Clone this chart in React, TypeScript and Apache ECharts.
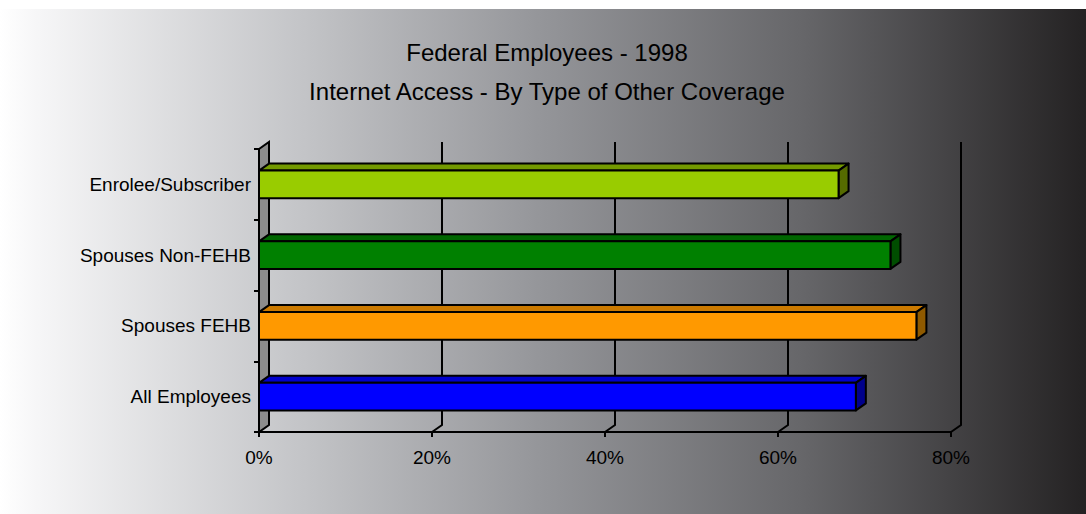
import React, { useEffect, useRef } from "react";
import * as echarts from "echarts";

const titleLines = ["Federal Employees - 1998", "Internet Access - By Type of Other Coverage"];
const categories = ["All Employees", "Spouses FEHB", "Spouses Non-FEHB", "Enrolee/Subscriber"];
const values = [69, 76, 73, 67];
const frontColors = ["#0000ff", "#ff9900", "#008000", "#99cc00"];
const topColors = ["#0000cc", "#cc7a00", "#006600", "#739900"];
const sideColors = ["#00008c", "#8f5a00", "#004d00", "#556b00"];
const xTicks = [0, 20, 40, 60, 80];

const DX = 10;
const DY = -7;
const FONT = '"Liberation Sans", Arial, Helvetica, sans-serif';

export default function App() {
  const ref = useRef<HTMLDivElement>(null);
  useEffect(() => {
    if (!ref.current) return;
    const chart = echarts.init(ref.current, null, { renderer: "svg" });
    const option: any = {
      animation: false,
      backgroundColor: "#ffffff",
      graphic: [
        {
          type: "rect",
          z: -10,
          silent: true,
          shape: { x: 0, y: 9, width: 1086, height: 505 },
          style: {
            fill: new echarts.graphic.LinearGradient(0, 0, 1, 0, [
              { offset: 0, color: "#ffffff" },
              { offset: 0.03, color: "#f7f7f8" },
              { offset: 0.28, color: "#c3c4c7" },
              { offset: 0.5, color: "#949599" },
              { offset: 0.74, color: "#666669" },
              { offset: 1, color: "#242223" },
            ]),
          },
        },
      ],
      title: [
        {
          text: titleLines[0],
          left: 542,
          top: 35,
          textAlign: "center",
          textStyle: { fontFamily: FONT, fontSize: 24, fontWeight: "normal", color: "#000" },
        },
        {
          text: titleLines[1],
          left: 542,
          top: 74,
          textAlign: "center",
          textStyle: { fontFamily: FONT, fontSize: 24, fontWeight: "normal", color: "#000" },
        },
      ],
      grid: { left: 259, right: 135, top: 149, bottom: 82 },
      xAxis: {
        type: "value",
        min: 0,
        max: 80,
        interval: 20,
        z: 5,
        axisLine: { show: true, lineStyle: { color: "#000", width: 2 } },
        axisTick: { show: true, length: 5, lineStyle: { color: "#000", width: 2 } },
        splitLine: { show: false },
        axisLabel: {
          formatter: "{value}%",
          fontFamily: FONT,
          fontSize: 19,
          color: "#000",
          margin: 16,
        },
      },
      yAxis: {
        type: "category",
        data: categories,
        z: 5,
        axisLine: { show: true, lineStyle: { color: "#000", width: 2 } },
        axisTick: { show: true, length: 5, lineStyle: { color: "#000", width: 2 } },
        axisLabel: { fontFamily: FONT, fontSize: 19, color: "#000", margin: 8 },
      },
      series: [
        {
          type: "custom",
          z: 1,
          silent: true,
          data: xTicks.map((v) => [v, 0]),
          renderItem: (params: any, api: any) => {
            const v = api.value(0);
            const x = api.coord([v, 0])[0];
            const cs = params.coordSys;
            const top = cs.y;
            const bottom = cs.y + cs.height;
            if (v === 0) {
              return {
                type: "polygon",
                shape: {
                  points: [
                    [x, top],
                    [x + DX, top + DY],
                    [x + DX, bottom + DY],
                    [x, bottom],
                  ],
                },
                style: { fill: "#8c8c8c", stroke: "#000", lineWidth: 2, lineJoin: "miter" },
              };
            }
            return {
              type: "polyline",
              shape: {
                points: [
                  [x + DX, top + DY],
                  [x + DX, bottom + DY],
                  [x, bottom],
                ],
              },
              style: { fill: null, stroke: "#000", lineWidth: 2 },
            };
          },
        },
        {
          type: "custom",
          z: 2,
          data: values.map((v, i) => [v, i]),
          renderItem: (params: any, api: any) => {
            const v = api.value(0);
            const c = api.value(1);
            const p1 = api.coord([v, c]);
            const p0 = api.coord([0, c]);
            const band = api.size([0, 1])[1];
            const h = band * 0.39;
            const x0 = p0[0];
            const x1 = p1[0];
            const yT = p1[1] - h / 2;
            const yB = p1[1] + h / 2;
            const idx = params.dataIndex;
            const st = { stroke: "#000", lineWidth: 2, lineJoin: "round" };
            return {
              type: "group",
              children: [
                {
                  type: "polygon",
                  shape: {
                    points: [
                      [x0, yT],
                      [x0 + DX, yT + DY],
                      [x1 + DX, yT + DY],
                      [x1, yT],
                    ],
                  },
                  style: { ...st, fill: topColors[idx] },
                },
                {
                  type: "polygon",
                  shape: {
                    points: [
                      [x1, yT],
                      [x1 + DX, yT + DY],
                      [x1 + DX, yB + DY],
                      [x1, yB],
                    ],
                  },
                  style: { ...st, fill: sideColors[idx] },
                },
                {
                  type: "rect",
                  shape: { x: x0, y: yT, width: x1 - x0, height: yB - yT },
                  style: { ...st, fill: frontColors[idx] },
                },
              ],
            };
          },
        },
      ],
    };
    chart.setOption(option);
    return () => chart.dispose();
  }, []);
  return (
    <div
      ref={ref}
      style={{ position: "absolute", left: 0, top: 0, width: 1086, height: 514 }}
    />
  );
}
